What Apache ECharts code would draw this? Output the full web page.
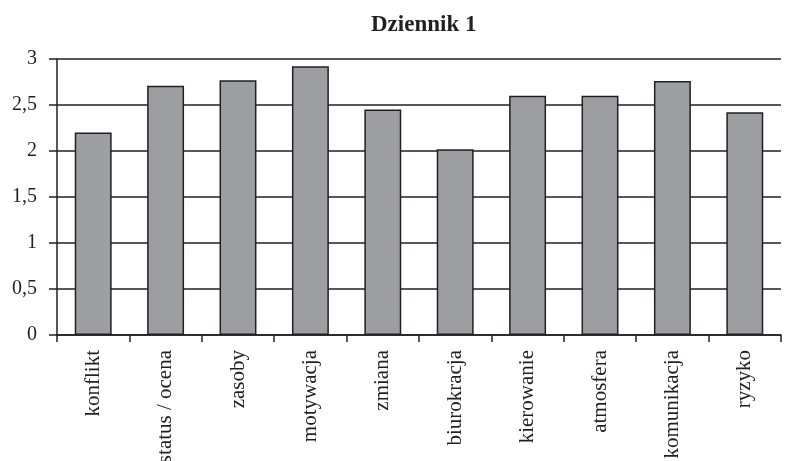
<!DOCTYPE html>
<html>
<head>
<meta charset="utf-8">
<script src="https://cdn.jsdelivr.net/npm/echarts@6/dist/echarts.min.js"></script>
<style>
  html, body { margin: 0; padding: 0; background: #fff; }
  #chart { width: 789px; height: 461px; }
</style>
</head>
<body>
<div id="chart"></div>
<script>
var categories = ['konflikt', 'status / ocena', 'zasoby', 'motywacja', 'zmiana',
    'biurokracja', 'kierowanie', 'atmosfera', 'komunikacja', 'ryzyko'];
var values = [2.2, 2.71, 2.77, 2.92, 2.45, 2.02, 2.6, 2.6, 2.76, 2.42];
var yTicks = [0, 0.5, 1, 1.5, 2, 2.5, 3];

var ink = '#231f20';
var font = 'Liberation Serif';

var myChart = echarts.init(document.getElementById('chart'));
var option = {
    backgroundColor: '#fff',
    animation: false,
    title: {
        text: 'Dziennik 1',
        left: 366, // nad srodkiem siatki, nie okna
        top: 9,
        textStyle: {
            fontFamily: font,
            fontWeight: 'bold',
            fontSize: 23,
            color: ink
        }
    },
    grid: {
        left: 57,
        right: 8,
        top: 59,
        bottom: 126,
        outerBoundsMode: 'none' // etykiety moga wychodzic poza dol
    },
    xAxis: {
        type: 'category',
        data: categories,
        axisLine: { show: true, lineStyle: { color: ink, width: 1.5 } },
        axisTick: { show: true, length: 7, lineStyle: { color: ink, width: 1.5 } },
        axisLabel: {
            rotate: 90,
            interval: 0,
            margin: 15,
            color: ink,
            fontFamily: font,
            fontSize: 21,
            padding: [0, 0, 12, 0] // przesuniecie w lewo jak w oryginale
        }
    },
    yAxis: {
        type: 'value',
        min: yTicks[0],
        max: yTicks[yTicks.length - 1],
        interval: 0.5,
        axisLine: { show: true, lineStyle: { color: ink, width: 1.5 } },
        axisTick: { show: true, length: 8, lineStyle: { color: ink, width: 1.5 } },
        splitLine: { show: true, lineStyle: { color: ink, width: 1.5 } },
        axisLabel: {
            margin: 20,
            color: ink,
            fontFamily: font,
            fontSize: 20,
            formatter: function (v) {
                return String(v).replace('.', ',');
            }
        }
    },
    series: [{
        name: 'Dziennik 1',
        type: 'bar',
        data: values,
        barWidth: '51%',
        itemStyle: {
            color: '#9d9ea1',
            borderColor: ink,
            borderWidth: 1.5
        }
    }]
};
myChart.setOption(option);
</script>
</body>
</html>
